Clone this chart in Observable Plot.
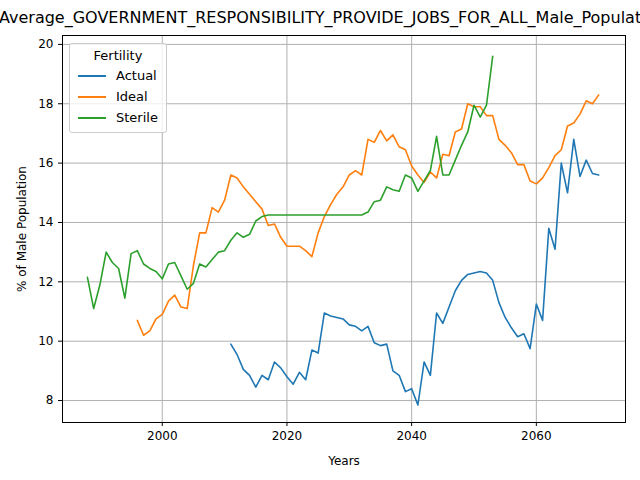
<!DOCTYPE html>
<html><head><meta charset="utf-8">
<script src="https://cdn.jsdelivr.net/npm/d3@7"></script>
<script src="https://cdn.jsdelivr.net/npm/@observablehq/plot@0.6"></script>
<style>
body{margin:0;font-family:"DejaVu Sans",sans-serif;background:#fff}
#wrap{position:relative;width:640px;height:480px;overflow:hidden}
#title{position:absolute;top:8px;left:-1px;font-size:16px;white-space:nowrap}
#chart{position:absolute;top:30px;left:0}
#legend{position:absolute;left:69px;top:43px;background:rgba(255,255,255,0.8);border:1px solid #ccc;border-radius:3px;padding:4px 8px;font-size:13px}
#legend .t{text-align:center;margin-bottom:2px}
#legend .r{display:flex;align-items:center;height:21px}
#legend .r span{display:inline-block;width:28px;height:2px;margin-right:10px}
</style></head>
<body><div id="wrap">
<div id="title">Average_GOVERNMENT_RESPONSIBILITY_PROVIDE_JOBS_FOR_ALL_Male_Population</div>
<div id="chart"></div>
<div id="legend"><div class="t">Fertility</div>
<div class="r"><span style="background:#1f77b4"></span>Actual</div>
<div class="r"><span style="background:#ff7f0e"></span>Ideal</div>
<div class="r"><span style="background:#2ca02c"></span>Sterile</div></div>
</div>
<script>
const actualStart = 2011;
const actual = [9.9,9.55,9.05,8.85,8.45,8.85,8.7,9.3,9.1,8.8,8.55,8.95,8.7,9.7,9.6,10.95,10.85,10.8,10.75,10.55,10.5,10.35,10.5,9.95,9.85,9.9,9.0,8.85,8.3,8.4,7.85,9.3,8.85,10.95,10.6,11.15,11.7,12.05,12.25,12.3,12.35,12.3,12.05,11.3,10.8,10.45,10.15,10.25,9.75,11.25,10.7,13.8,13.1,16.0,15.0,16.8,15.55,16.1,15.65,15.6];
const idealStart = 1996;
const ideal = [10.7,10.2,10.35,10.75,10.9,11.35,11.55,11.15,11.1,12.55,13.65,13.65,14.5,14.35,14.75,15.6,15.5,15.2,14.95,14.7,14.45,13.9,13.95,13.5,13.2,13.2,13.2,13.05,12.85,13.65,14.2,14.6,14.95,15.2,15.6,15.75,15.6,16.8,16.7,17.1,16.75,16.95,16.55,16.45,15.9,15.6,15.35,15.7,15.5,16.3,16.25,17.05,17.15,18.0,17.9,17.9,17.6,17.6,16.8,16.6,16.35,15.95,15.95,15.4,15.3,15.5,15.85,16.25,16.45,17.25,17.35,17.65,18.1,18.0,18.3];
const sterileStart = 1988;
const sterile = [12.15,11.1,11.9,13.0,12.65,12.45,11.45,12.95,13.05,12.6,12.45,12.35,12.1,12.6,12.65,12.2,11.75,11.95,12.6,12.5,12.75,13.0,13.05,13.4,13.65,13.5,13.6,14.05,14.2,14.25,14.25,14.25,14.25,14.25,14.25,14.25,14.25,14.25,14.25,14.25,14.25,14.25,14.25,14.25,14.25,14.35,14.7,14.75,15.2,15.1,15.05,15.6,15.5,15.05,15.4,15.75,16.9,15.6,15.6,16.1,16.6,17.05,17.95,17.55,17.95,19.6];

const rows = [];
const add = (name, start, vals) => vals.forEach((v, i) => rows.push({series: name, year: start + i, value: v}));
add("Actual", actualStart, actual);
add("Ideal", idealStart, ideal);
add("Sterile", sterileStart, sterile);

const chart = Plot.plot({
  width: 640, height: 450,
  marginTop: 5, marginLeft: 62, marginRight: 15, marginBottom: 58,
  style: {fontFamily: "DejaVu Sans", fontSize: "12px", color: "#000"},
  x: {domain: [1984, 2074.3], ticks: [2000, 2020, 2040, 2060], tickFormat: d => String(d), label: "Years", labelAnchor: "center", labelArrow: "none", labelOffset: 42, tickSize: 4},
  y: {domain: [7.26, 20.3], ticks: [8, 10, 12, 14, 16, 18, 20], label: "% of Male Population", labelAnchor: "center", labelArrow: "none", labelOffset: 45, tickSize: 4},
  color: {domain: ["Actual", "Ideal", "Sterile"], range: ["#1f77b4", "#ff7f0e", "#2ca02c"]},
  marks: [
    Plot.gridX([2000, 2020, 2040, 2060], {stroke: "#b0b0b0", strokeOpacity: 1}),
    Plot.gridY([8, 10, 12, 14, 16, 18, 20], {stroke: "#b0b0b0", strokeOpacity: 1}),
    Plot.line(rows, {x: "year", y: "value", z: "series", stroke: "series", strokeWidth: 1.6}),
    Plot.frame({stroke: "#000"})
  ]
});
document.getElementById("chart").append(chart);
</script>
</body></html>
